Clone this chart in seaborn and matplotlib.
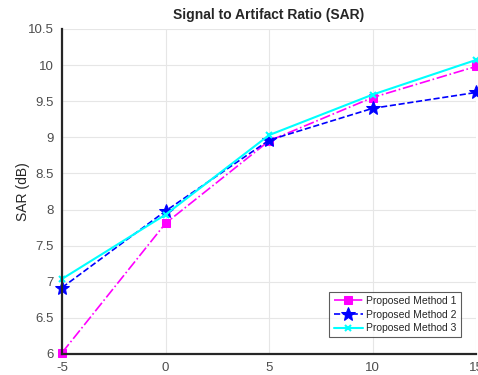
import pandas as pd
import numpy as np

import matplotlib
matplotlib.use("Agg")
import matplotlib.pyplot as plt
import seaborn as sns

snr = [-5, 0, 5, 10, 15]
method1 = [6.02, 7.81, 8.95, 9.55, 9.98]
method2 = [6.92, 7.98, 8.96, 9.40, 9.62]
method3 = [7.04, 7.93, 9.03, 9.59, 10.07]
labels = ["Proposed Method 1", "Proposed Method 2", "Proposed Method 3"]
y_ticks = [6, 6.5, 7, 7.5, 8, 8.5, 9, 9.5, 10, 10.5]
y_tick_labels = ["6", "6.5", "7", "7.5", "8", "8.5", "9", "9.5", "10", "10.5"]

sns.set_style("whitegrid")
plt.rcParams["font.family"] = ["Liberation Sans", "DejaVu Sans"]

fig = plt.figure(figsize=(4.78, 3.75), dpi=100)
ax = fig.add_axes([0.130, 0.056, 0.866, 0.867])

styles = [
    dict(color="#ff00ff", linestyle="-.", marker="s", markersize=5.5, linewidth=1.2),
    dict(color="#0000ff", linestyle="--", marker="*", markersize=10, linewidth=1.2, dashes=(5, 3)),
    dict(color="#00ffff", linestyle="-", marker="x", markersize=5, linewidth=1.5, markeredgewidth=1.5),
]
for vals, lab, st in zip([method1, method2, method3], labels, styles):
    sns.lineplot(x=snr, y=vals, label=lab, ax=ax, markeredgecolor=st["color"], **st)

ax.set_xlim(-5, 15)
ax.set_ylim(6, 10.5)
ax.set_xticks(snr)
ax.set_xticklabels([str(v) for v in snr])
ax.set_yticks(y_ticks)
ax.set_yticklabels(y_tick_labels)
ax.grid(True, color="#e6e6e6", linewidth=0.8)
ax.set_facecolor("white")

for side in ["top", "right"]:
    ax.spines[side].set_visible(False)
for side in ["left", "bottom"]:
    ax.spines[side].set_color("#262626")
    ax.spines[side].set_linewidth(1.6)

ax.tick_params(axis="both", direction="in", length=4, width=1.2, color="#262626",
               labelsize=9.5, labelcolor="#4d4d4d", pad=6)
ax.set_ylabel("SAR (dB)", fontsize=10, color="#262626")
ax.yaxis.set_label_coords(-0.077, 0.5)
ax.set_title("Signal to Artifact Ratio (SAR)", fontsize=10, fontweight="bold", pad=7)

leg = ax.legend(loc="lower right", bbox_to_anchor=(0.975, 0.035), fontsize=7.5,
                frameon=True, fancybox=False, edgecolor="#333333",
                handlelength=2.8, borderpad=0.4, labelspacing=0.35, handletextpad=0.3)
leg.get_frame().set_linewidth(0.8)
for line in ax.get_lines():
    line.set_clip_on(False)

fig.savefig("out.png", dpi=100)
